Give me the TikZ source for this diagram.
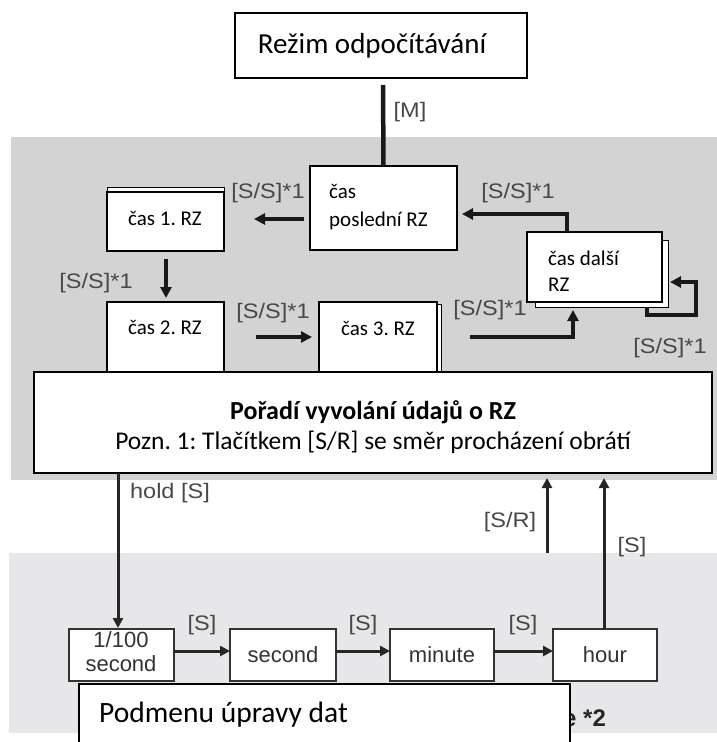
\documentclass[tikz,border=0pt]{standalone}
\usepackage{fontspec}
\usepackage{graphicx}
\setmainfont{Carlito}
\newfontfamily\arialf{Liberation Sans}
\usetikzlibrary{arrows.meta}
\definecolor{grayA}{RGB}{211,211,212}
\definecolor{grayB}{RGB}{231,231,233}
\definecolor{lblgray}{RGB}{72,72,72}
\newcommand\lbw[1]{\scalebox{1.12}[1]{#1}}
\tikzset{
 box/.style={draw=black, line width=1.8pt, fill=white, inner sep=0pt, outer sep=0pt, anchor=north west},
 backbox/.style={draw=black, line width=1pt, fill=white, inner sep=0pt, outer sep=0pt, anchor=north west},
 sbox/.style={draw=black!80, line width=1.5pt, fill=white, inner sep=0pt, outer sep=0pt, anchor=north west, minimum height=52pt},
 txt/.style={font=\fontsize{21}{21}\selectfont, inner sep=0pt},
 lbl/.style={text=lblgray, font=\arialf\fontsize{21}{21}\selectfont, inner sep=0pt},
 stxt/.style={text=black!80, font=\arialf\fontsize{22}{22}\selectfont, inner sep=0pt},
 conn/.style={line width=3.5pt, draw=black!90},
 arr/.style={conn, -{Triangle[length=11pt,width=11pt]}},
 sarr/.style={line width=3pt, draw=black!85, -{Triangle[length=10pt,width=10pt]}},
}
\begin{document}
\frenchspacing
\begin{tikzpicture}[x=1pt,y=-1pt]
\clip (0,0) rectangle (717,742);
\fill[white] (0,0) rectangle (717,742);
\fill[grayA] (11,137) rectangle (717,480);
\fill[grayB] (9,553) rectangle (717,733);

% top box
\node[box, minimum width=292pt, minimum height=65pt] (rezim) at (235,13) {};
\node[font=\fontsize{29}{29}\selectfont, inner sep=0pt] (rezimt) at (372,46) {Režim odpočítávání};

% upper boxes
\node[box, minimum width=147pt, minimum height=84pt] (posl) at (310,166) {};
\node[txt, anchor=west] (poslt1) at (329,191) {čas};
\node[txt, anchor=west] (poslt2) at (329,221) {poslední RZ};

\node[backbox, minimum width=117pt, minimum height=60pt] (c1b) at (107,187) {};
\node[box, minimum width=117pt, minimum height=59pt] (c1) at (107,192) {};
\node[txt] (c1t) at (165,218) {čas 1. RZ};

\node[box, minimum width=117pt, minimum height=90pt] (c2) at (107,302) {};
\node[txt] (c2t) at (165,327) {čas 2. RZ};

\node[backbox, minimum width=118pt, minimum height=86pt] (c3b) at (323,304) {};
\node[box, minimum width=118pt, minimum height=88pt] (c3) at (319,302) {};
\node[txt] (c3t) at (378,328) {čas 3. RZ};

\node[backbox, minimum width=133pt, minimum height=67pt] (dalb) at (535,240) {};
\node[box, minimum width=135pt, minimum height=70pt] (dal) at (527,232) {};
\node[txt, anchor=west] (dalt1) at (548,258) {čas další};
\node[txt, anchor=west] (dalt2) at (548,285) {RZ};

% big box
\node[box, minimum width=678pt, minimum height=101pt] (big) at (34,372) {};
\node[font=\bfseries\fontsize{26}{26}\selectfont, inner sep=0pt] (bigt1) at (373,412) {Pořadí vyvolání údajů o RZ};
\node[font=\fontsize{25.5}{25.5}\selectfont, inner sep=0pt] (bigt2) at (373,442) {Pozn. 1: Tlačítkem [S/R] se směr procházení obrátí};

% connectors upper
\coordinate (mtop) at (383,85);
\draw[conn, line width=4.5pt] (mtop) -- (posl.north);
\node[lbl] (lm) at (410,112) {\lbw{[M]}};

\coordinate (a1s) at (304,219);
\coordinate (a1e) at (254,219);
\draw[arr] (a1s) -- (a1e);
\node[lbl] (l1) at (268,193) {\lbw{[S/S]*1}};

\coordinate (a2s) at (166,259);
\coordinate (a2e) at (166,298);
\draw[arr] (a2s) -- (a2e);
\node[lbl] (l2) at (96,283) {\lbw{[S/S]*1}};

\coordinate (a3s) at (256,337);
\coordinate (a3e) at (312,337);
\draw[arr] (a3s) -- (a3e);
\node[lbl] (l3) at (273,313) {\lbw{[S/S]*1}};

\coordinate (a4s) at (470,337);
\coordinate (a4e) at (573,310);
\draw[arr] (a4s) -| (a4e);
\node[lbl] (l4) at (490,310) {\lbw{[S/S]*1}};

\coordinate (a5s) at (567,232);
\coordinate (a5e) at (462,214);
\draw[arr] (a5s) |- (a5e);
\node[lbl] (l5) at (518,193) {\lbw{[S/S]*1}};

\coordinate (a6s) at (647,307);
\coordinate (a6m) at (696,315);
\coordinate (a6e) at (670,282);
\draw[arr, line join=miter] (a6s) |- (a6m) |- (a6e);
\node[lbl] (l6) at (670,348) {\lbw{[S/S]*1}};

% lower connectors
\coordinate (hs) at (118,473);
\coordinate (he) at (118,628);
\draw[sarr] (hs) -- (he);
\node[lbl] (lh) at (170,493) {\lbw{hold [S]}};

\coordinate (srs) at (547,553);
\coordinate (sre) at (547,478);
\draw[sarr] (srs) -- (sre);
\node[lbl] (lsr) at (510,522) {\lbw{[S/R]}};

% bottom row
\node[sbox, minimum width=105pt] (b1) at (69,629) {};
\node[sbox, minimum width=106pt] (b2) at (230,629) {};
\node[sbox, minimum width=104pt] (b3) at (390,629) {};
\node[sbox, minimum width=104pt] (b4) at (553,629) {};
\node[stxt] (b1t1) at (121,640) {1/100};
\node[stxt] (b1t2) at (121,664) {second};
\node[stxt] (b2t) at (283,655) {second};
\node[stxt] (b3t) at (442,655) {minute};
\node[stxt] (b4t) at (605,655) {hour};

\coordinate (hre) at (604,478);
\draw[sarr] (b4.north -| hre) -- (hre);
\node[lbl] (lhr) at (632,547) {\lbw{[S]}};

\draw[sarr] (b1.east |- 0,651) -- (b2.west |- 0,651);
\draw[sarr] (b2.east |- 0,651) -- (b3.west |- 0,651);
\draw[sarr] (b3.east |- 0,651) -- (b4.west |- 0,651);
\node[lbl] (ls1) at (202,625) {\lbw{[S]}};
\node[lbl] (ls2) at (363,625) {\lbw{[S]}};
\node[lbl] (ls3) at (523,625) {\lbw{[S]}};

% bottom partially hidden text and box
\node[anchor=west, inner sep=0pt, text=black!85, font=\arialf\bfseries\fontsize{24}{24}\selectfont] (hid) at (563,718) {e *2};
\node[box, minimum width=491pt, minimum height=90pt] (podm) at (79,684) {};
\node[anchor=west, inner sep=0pt, font=\fontsize{29.5}{29.5}\selectfont] (podmt) at (99,715) {Podmenu úpravy dat};
\end{tikzpicture}
\end{document}
